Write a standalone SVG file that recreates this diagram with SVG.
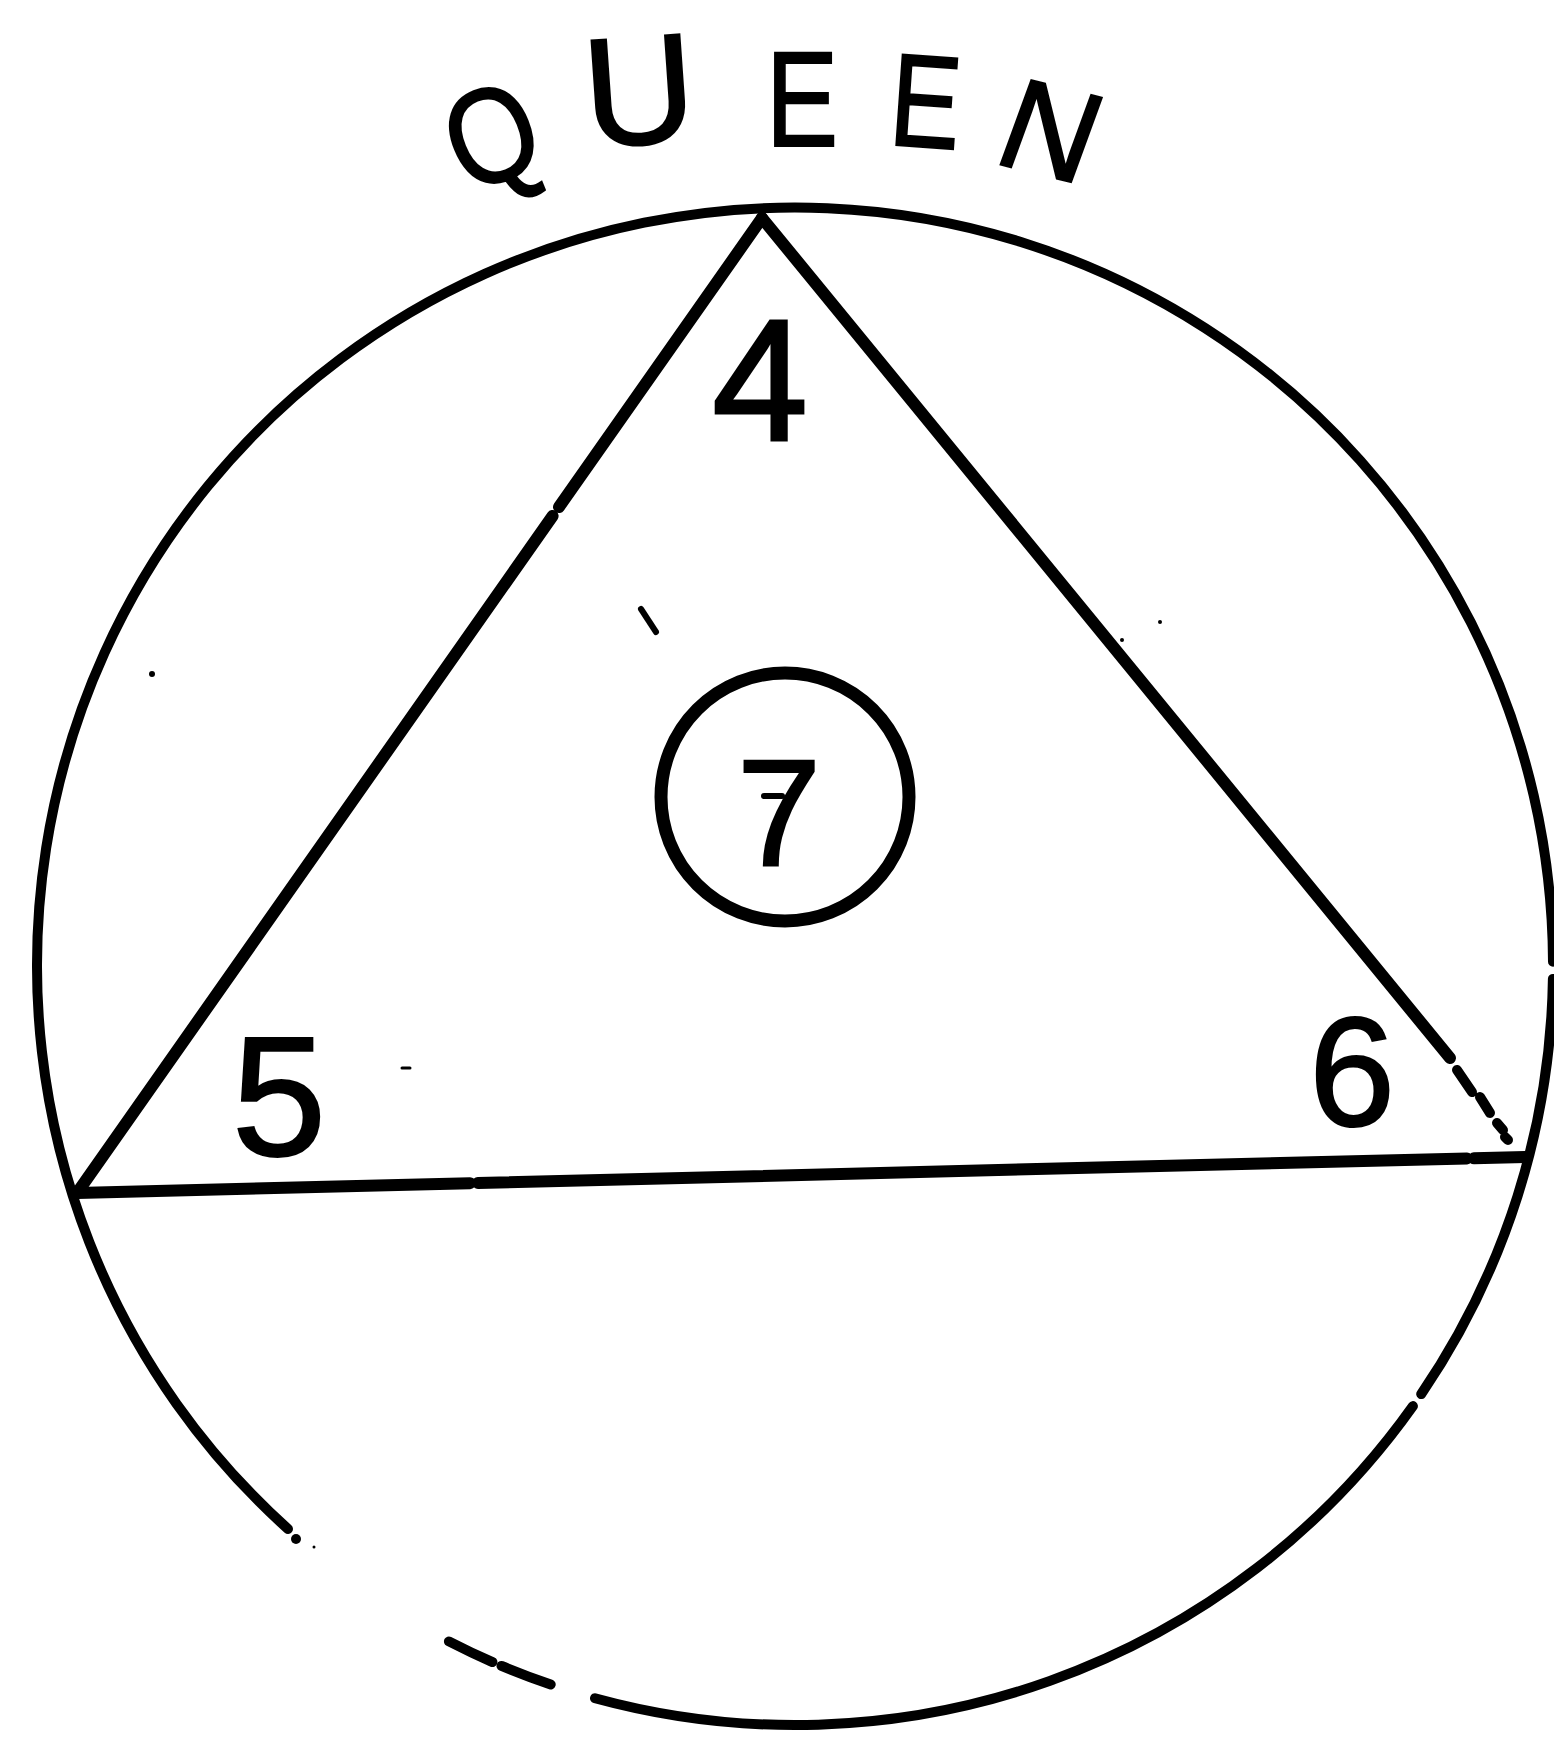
<svg xmlns="http://www.w3.org/2000/svg" width="1554" height="1740" viewBox="0 0 1554 1740">
<style>
.ln{fill:none;stroke:#000;stroke-width:10;stroke-linecap:round;stroke-linejoin:round}
.tri{stroke-width:12}
.thick{stroke-width:13}
.lt{font-family:"Liberation Sans",Arial,sans-serif;fill:#000;text-anchor:middle}
.q{font-size:140px;stroke:#000;stroke-width:2}
.d{font-size:170px;stroke:#000;stroke-width:2}
.mk{fill:#000}
</style>
<rect width="1554" height="1740" fill="#fff"/>
<g id="title">
<text class="lt q" transform="translate(491,134) rotate(-22) scale(0.85,1)" style="font-size:135px" y="48">Q</text>
<text class="lt q" transform="translate(639,89) rotate(-4)" style="font-size:155px" y="55">U</text>
<text class="lt q" transform="translate(802,98) scale(0.8,1)" style="font-size:135px" y="48">E</text>
<text class="lt q" transform="translate(926,100) rotate(4) scale(0.8,1)" style="font-size:132px" y="47">E</text>
<text class="lt q" transform="translate(1052,129) rotate(14) skewX(-6)" style="font-size:130px" y="47">N</text>
</g>
<g id="outer-circle">
<path class="ln" d="M595,1698.2 A758,758 0 0 0 1412.9,1406.1"/>
<path class="ln" d="M1421.2,1394.1 A758,758 0 0 0 1552.9,978.9"/>
<path class="ln" d="M1553,961.7 A758,758 0 1 0 288,1529"/>
<path class="ln" d="M448.9,1641.4 A758,758 0 0 0 492.5,1662.1"/>
<path class="ln" d="M501.5,1665.9 A758,758 0 0 0 550.7,1684.5"/>
<circle class="mk" cx="296" cy="1539" r="5"/>
<circle class="mk" cx="314" cy="1547" r="1.5"/>
</g>
<g id="connectors">
<path class="ln tri" d="M762,218 L559,507"/>
<path class="ln tri" d="M552.6,516 L77,1193"/>
<path class="ln tri" d="M762,218 L1450,1058"/>
<path class="ln" d="M1457,1070 L1472,1092 M1480,1097 L1490,1113 M1497,1123 L1503,1130 M1505,1137 L1508,1140"/>
<path class="ln tri" d="M77,1193 L470,1183.2 M478,1183 L1467,1158.4 M1474,1158.3 L1525,1157"/>
</g>
<g id="node-4"><text class="lt d" x="760" y="440" style="font-size:172px;stroke-width:3">4</text></g>
<g id="node-5"><text class="lt d" x="279" y="1155">5</text></g>
<g id="node-6"><text class="lt d" x="1352" y="1125" style="font-size:155px">6</text></g>
<g id="node-7">
<circle class="ln thick" cx="785" cy="797" r="124"/>
<text class="lt d" x="779" y="865" style="font-size:152px">7</text>
<path class="ln" style="stroke-width:6" d="M764,796 L782,796"/>
</g>
<g id="marks">
<path class="ln" style="stroke-width:6" d="M641,609 L656,632"/>
<circle class="mk" cx="152" cy="674" r="3"/>
<path class="ln" style="stroke-width:3" d="M402,1068 L410,1068"/>
<circle class="mk" cx="1122" cy="640" r="2"/>
<circle class="mk" cx="1160" cy="622" r="2"/>
</g>
</svg>
